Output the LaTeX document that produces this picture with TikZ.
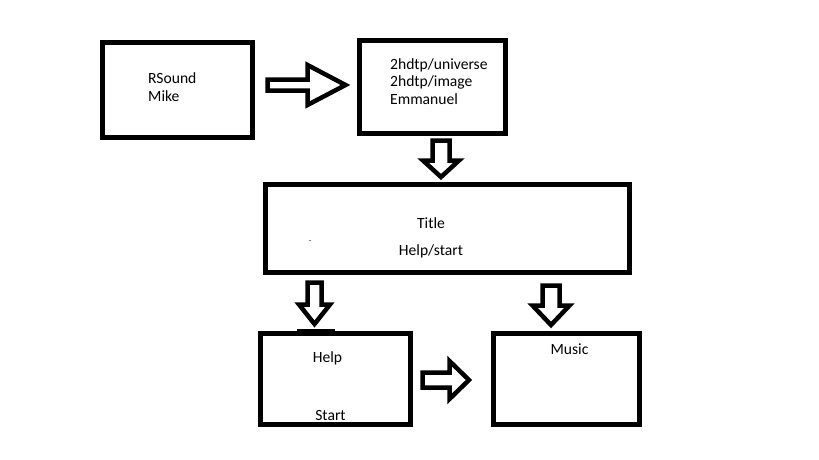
\documentclass[tikz,border=0pt]{standalone}
\usepackage{fontspec}
\setmainfont{Carlito}
\tikzset{
  screen/.style 2 args={draw, line width=4.5pt, minimum width=#1pt, minimum height=#2pt,
    inner sep=0pt, outer sep=0pt},
  txt/.style={inner sep=0pt, font=\fontsize{15.6}{18}\selectfont},
  pics/fat arrow/.style n args={4}{code={
    \draw[line width=4.5pt, line join=miter]
      (0,-#3) -- (#2,-#3) -- (#2,-#4) -- (#1,0) -- (#2,#4) -- (#2,#3) -- (0,#3) -- cycle;
  }}
}
\begin{document}
\begin{tikzpicture}[x=1pt, y=-1pt]
  \useasboundingbox (0,0) rectangle (819,460);
  % boxes
  \node[screen={150}{95}] (loader) at (177.5,90) {};
  \node[screen={146}{93}] (libs) at (432.5,87) {};
  \node[screen={364}{88}] (title) at (447.5,228.5) {};
  \node[screen={150}{91}] (help) at (335.5,379) {};
  \node[screen={146}{91}] (music) at (566.5,379) {};
  % texts (base = last line)
  \node[txt, anchor=base west, align=left] (loadertext) at (148,101) {RSound\\Mike};
  \node[txt, anchor=base west, align=left, font=\fontsize{15.6}{17.5}\selectfont] (libstext) at (390,104) {2hdtp/universe\\2hdtp/image\\Emmanuel};
  \node[txt, anchor=base, align=center, font=\fontsize{15.6}{27}\selectfont] (titletext) at (431,255) {Title\\Help/start};
  \node[txt, anchor=base] (helptext) at (327.5,362) {Help};
  \node[txt, anchor=base] (starttext) at (330.5,420) {Start};
  \node[txt, anchor=base] (musictext) at (569.5,354) {Music};
  % arrows
  \pic at ([shift={(15,-5)}]loader.east) {fat arrow={78}{40}{5.5}{20}};
  \pic[rotate=-90] at ([shift={(8.5,7)}]libs.south) {fat arrow={36.5}{20}{8.5}{18}};
  \pic[rotate=-90] at ([shift={(49,10)}]title.south west) {fat arrow={41.5}{22}{7}{15.5}};
  \pic[rotate=-90] at ([shift={(-15.5,-48)}]music.north) {fat arrow={39.5}{20}{8.5}{18.5}};
  \pic at ([shift={(12,1)}]help.east) {fat arrow={46.5}{27}{7.5}{19}};
  % marks
  \draw[line width=2pt] ([shift={(-38.5,-3.5)}]help.north) -- ([shift={(-0.5,-3.5)}]help.north);
  \fill ([shift={(-137.5,12)}]title.center) circle (0.6);
\end{tikzpicture}
\end{document}
